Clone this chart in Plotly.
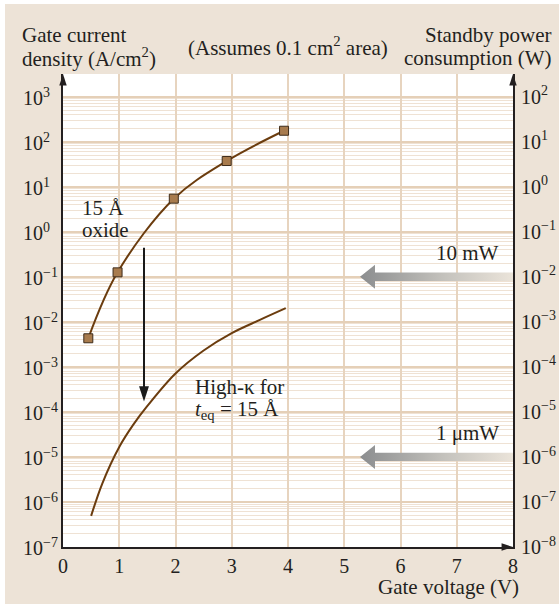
import math
import plotly.graph_objects as go

# ---------------- data ----------------
oxide_voltage = [0.45, 0.97, 1.97, 2.91, 3.93]
oxide_current = [4.3e-3, 0.125, 5.4, 37.0, 174.0]

highk_voltage = [0.5, 0.7, 1.0, 1.25, 1.5, 2.0, 2.5, 3.0, 3.5, 3.96]
highk_current = [4.9e-7, 2.6e-6, 1.66e-5, 5.2e-5, 1.35e-4, 7.1e-4, 2.3e-3, 5.6e-3, 1.1e-2, 2.0e-2]

x_tick_values = [0, 1, 2, 3, 4, 5, 6, 7, 8]
current_exponents = [-7, -6, -5, -4, -3, -2, -1, 0, 1, 2, 3]
power_exponents = [-8, -7, -6, -5, -4, -3, -2, -1, 0, 1, 2]

power_levels_w = [1e-2, 1e-6]
power_labels = ["10 mW", "1 μmW"]
power_arrow_tip_v = 5.28

reduction_arrow_v = 1.44
reduction_arrow_from = 0.44
reduction_arrow_to = 1.7e-4

# ---------------- styling / layout ----------------
W, H = 559, 608
ML, MR, MT, MB = 63, 46, 74, 61
PW, PH = W - ML - MR, H - MT - MB
X_RANGE = [0, 8]
Y_RANGE = [-7, 3.5]
Y2_RANGE = [Y_RANGE[0] - 1, Y_RANGE[1] - 1]
PX_PER_V = PW / (X_RANGE[1] - X_RANGE[0])
PX_PER_DEC = PH / (Y_RANGE[1] - Y_RANGE[0])

BEIGE = "#ede3d7"
TXT = "#231f20"
CURVE = "#6b3c0e"
MFILL = "#a87b4d"
MEDGE = "#3e2c1b"
GRID_V = "#e7d4bf"
GRID_MAJ = "#e5d0b8"
GRID_MIN = "#efe2d4"
FONT = "Liberation Serif, Times New Roman, serif"
FS = 21
FT = 20


def pxx(X):
    return (X - ML) / PW


def pyy(Y):
    return (H - MB - Y) / PH


def sup_label(e):
    s = str(e).replace("-", "\u2212")
    return f"10<sup>{s}</sup>"


fig = go.Figure()

# grey gradient arrows for power levels (on the power axis)
hl = 15 / PX_PER_V
hh = 12 / PX_PER_DEC
sh = 4.2 / PX_PER_DEC
for lvl in power_levels_w:
    t = power_arrow_tip_v
    xs = [t, t + hl, t + hl, X_RANGE[1], X_RANGE[1], t + hl, t + hl, t]
    ys = [lvl, lvl * 10 ** hh, lvl * 10 ** sh, lvl * 10 ** sh,
          lvl * 10 ** -sh, lvl * 10 ** -sh, lvl * 10 ** -hh, lvl]
    fig.add_trace(go.Scatter(
        x=xs, y=ys, yaxis="y2", mode="lines", fill="toself",
        line=dict(width=0, color="rgba(0,0,0,0)"),
        fillgradient=dict(type="horizontal",
                          colorscale=[[0, "#8b8d8f"], [0.55, "#c4c2bd"], [1, "#ebe4da"]]),
        hoverinfo="skip", showlegend=False))

# oxide curve
fig.add_trace(go.Scatter(
    x=oxide_voltage, y=oxide_current, mode="lines+markers",
    line=dict(color=CURVE, width=2, shape="spline", smoothing=1.0),
    marker=dict(symbol="square", size=9, color=MFILL, line=dict(color=MEDGE, width=1)),
    showlegend=False))

# high-k curve
fig.add_trace(go.Scatter(
    x=highk_voltage, y=highk_current, mode="lines",
    line=dict(color=CURVE, width=2, shape="spline", smoothing=1.0),
    showlegend=False))

# reduction arrow (black)
fig.add_trace(go.Scatter(
    x=[reduction_arrow_v, reduction_arrow_v],
    y=[reduction_arrow_from, reduction_arrow_to * 10 ** (8 / PX_PER_DEC)],
    mode="lines", line=dict(color="#1a1a1a", width=2), showlegend=False))
fig.add_trace(go.Scatter(
    x=[reduction_arrow_v], y=[reduction_arrow_to], mode="markers",
    marker=dict(symbol="arrow", size=16, angle=180, color="#1a1a1a", line=dict(width=0)),
    showlegend=False))

# axis arrowheads
top_val = 10 ** Y_RANGE[1]
bot_val = 10 ** Y_RANGE[0]
fig.add_trace(go.Scatter(
    x=[X_RANGE[0], X_RANGE[1], X_RANGE[1]], y=[top_val, top_val, bot_val],
    mode="markers", cliponaxis=False,
    marker=dict(symbol="arrow", size=12, angle=[0, 0, 90], color=TXT, line=dict(width=0)),
    showlegend=False))

minor_vals = [m * 10 ** e for e in current_exponents[:-1] for m in range(2, 10)]

fig.update_layout(
    width=W, height=H,
    margin=dict(l=ML, r=MR, t=MT, b=MB, pad=0, autoexpand=False),
    paper_bgcolor=BEIGE, plot_bgcolor="white",
    font=dict(family=FONT, size=FS, color=TXT),
    showlegend=False,
    xaxis=dict(range=X_RANGE, tickvals=x_tick_values, ticktext=[str(v) for v in x_tick_values],
               showgrid=True, gridcolor=GRID_V, gridwidth=1.5, zeroline=False, automargin=False,
               showline=True, linecolor=TXT, linewidth=2, ticks="", ticklabelstandoff=0,
               tickfont=dict(family=FONT, size=FT, color=TXT), fixedrange=True),
    yaxis=dict(type="log", range=Y_RANGE,
               tickvals=[10 ** e for e in current_exponents],
               showticklabels=False, automargin=False,
               showgrid=True, gridcolor=GRID_MAJ, gridwidth=2, zeroline=False,
               showline=True, linecolor=TXT, linewidth=2, ticks="",
               minor=dict(tickvals=minor_vals, showgrid=True, gridcolor=GRID_MIN,
                          gridwidth=1, ticks=""),
               fixedrange=True),
    yaxis2=dict(type="log", range=Y2_RANGE, overlaying="y", side="right",
                tickvals=[10 ** e for e in power_exponents],
                ticktext=[sup_label(e) for e in power_exponents],
                showgrid=False, zeroline=False, automargin=False,
                showline=True, linecolor=TXT, linewidth=2, ticks="", ticklabelstandoff=2,
                tickfont=dict(family=FONT, size=FT, color=TXT), fixedrange=True),
)

ann = []


def text(s, X, Y, xa="left", size=FS):
    ann.append(dict(text=s, x=pxx(X), y=pyy(Y), xref="paper", yref="paper",
                    xanchor=xa, yanchor="middle", showarrow=False,
                    font=dict(family=FONT, size=size, color=TXT)))


text("Gate current", 20, 35)
text("density (A/cm<sup>2</sup>)", 20, 57)
text("(Assumes 0.1 cm<sup>2</sup> area)", 288, 46, xa="center")
text("Standby power", 554, 35, xa="right")
text("consumption (W)", 554, 58, xa="right")
text("Gate voltage (V)", 521, 587, xa="right")
text("15 Å", 80, 208)
text("oxide", 80, 230)
text("High-κ for", 193, 387)
text("<i>t</i><sub>eq</sub> = 15 Å", 193, 410)

# left-aligned current-density tick labels
for e in current_exponents:
    ann.append(dict(text=sup_label(e), x=pxx(20.5), y=e, xref="paper", yref="y",
                    xanchor="left", yanchor="middle", showarrow=False,
                    font=dict(family=FONT, size=FT, color=TXT)))

for lvl, lab in zip(power_levels_w, power_labels):
    ann.append(dict(text=lab, x=X_RANGE[1], y=math.log10(lvl), xref="x", yref="y2",
                    xanchor="right", yanchor="middle", xshift=-12, yshift=24,
                    showarrow=False, font=dict(family=FONT, size=FS, color=TXT)))

fig.update_layout(annotations=ann)

# thin white border around the beige panel
fig.update_layout(shapes=[
    dict(type="rect", xref="paper", yref="paper", x0=pxx(0), x1=pxx(5), y0=pyy(H), y1=pyy(0),
         fillcolor="white", line=dict(width=0), layer="above"),
    dict(type="rect", xref="paper", yref="paper", x0=pxx(0), x1=pxx(W), y0=pyy(4), y1=pyy(0),
         fillcolor="white", line=dict(width=0), layer="above"),
    dict(type="rect", xref="paper", yref="paper", x0=pxx(0), x1=pxx(W), y0=pyy(H), y1=pyy(H - 4),
         fillcolor="white", line=dict(width=0), layer="above"),
])

fig.write_html("out.html")
